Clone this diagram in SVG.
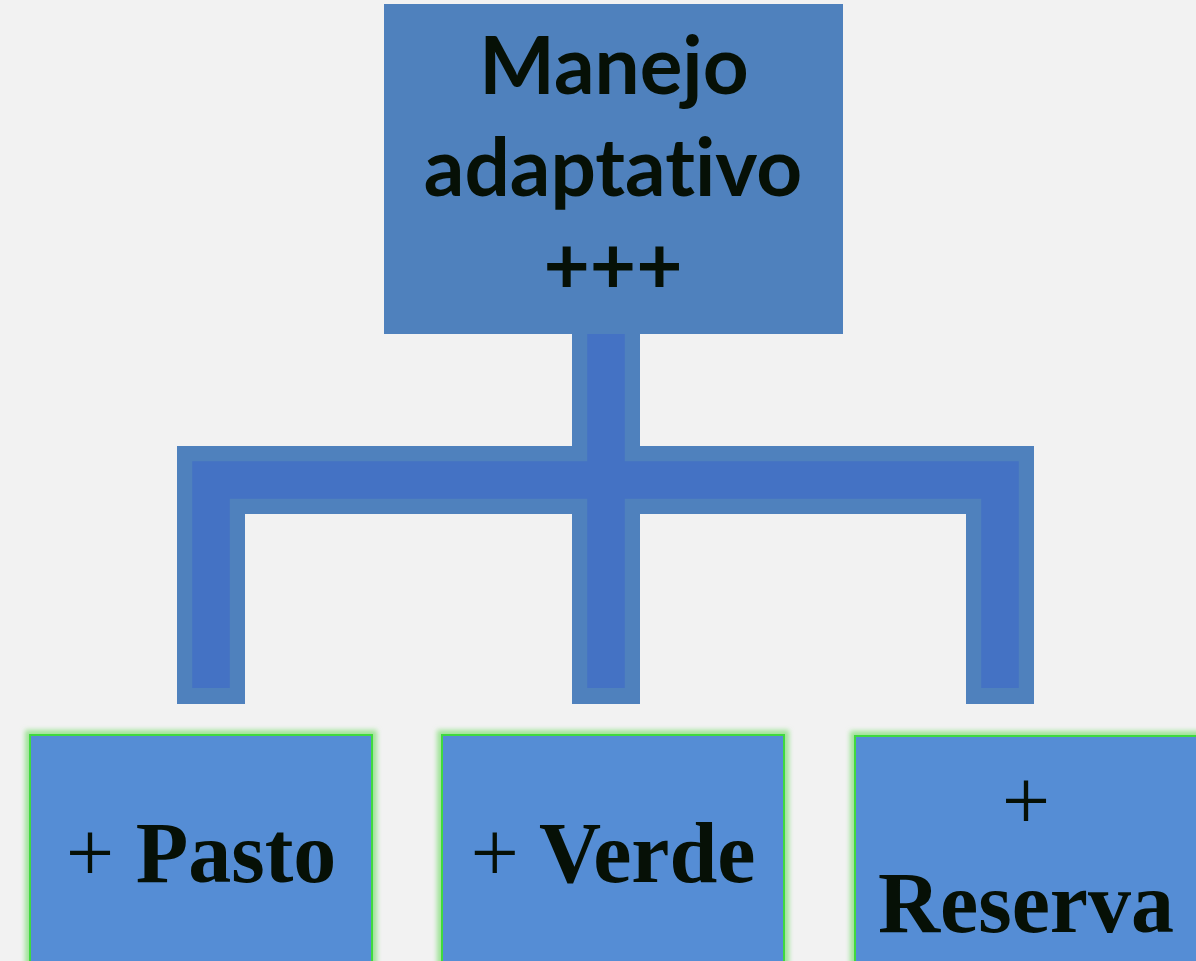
<svg xmlns="http://www.w3.org/2000/svg" width="1196" height="961" viewBox="0 0 1196 961">
  <defs>
    <filter id="glow" x="-10%" y="-10%" width="120%" height="120%">
      <feGaussianBlur stdDeviation="2.5"/>
    </filter>
    <style>
      .bg { fill: #F2F2F2; }
      .outer { fill: none; stroke: #4F81BD; stroke-width: 68; stroke-linejoin: miter; stroke-linecap: butt; }
      .inner { fill: none; stroke: #4472C4; stroke-width: 37.5; stroke-linejoin: miter; stroke-linecap: butt; }
      .top { fill: #4F81BD; }
      .halo { fill: none; stroke: #9FE397; stroke-width: 10; }
      .leaf { fill: #558DD5; stroke: #3FD93F; stroke-width: 2; }
      .t1 { font-family: Lato, "Open Sans", sans-serif; font-weight: bold; font-size: 80px; fill: #061006; text-anchor: middle; font-variant-ligatures: none; font-feature-settings: "liga" 0; }
      .t2 { font-family: "Liberation Serif", "Times New Roman", serif; font-weight: bold; font-size: 86px; fill: #061006; text-anchor: middle; }
      .plus { font-weight: normal; }
    </style>
  </defs>
  <rect class="bg" x="0" y="0" width="1196" height="961"/>
  <g id="connectors">
    <path class="outer" d="M211,704 V480 H1000 V704 M606,334 V704"/>
    <path class="inner" d="M211,688 V480 H1000 V688 M606,334 V688"/>
  </g>
  <g id="node-manejo">
    <rect class="top" x="384" y="4" width="459" height="330"/>
    <text class="t1" x="614" y="94">Manejo</text>
    <text class="t1" x="613" y="196">adaptativo</text>
    <text class="t1" x="613" y="294">+++</text>
  </g>
  <g id="node-pasto">
    <rect class="halo" x="30" y="735" width="342" height="240" filter="url(#glow)"/>
    <rect class="leaf" x="30" y="735" width="342" height="240"/>
    <text class="t2" x="201" y="882"><tspan class="plus">+</tspan> Pasto</text>
  </g>
  <g id="node-verde">
    <rect class="halo" x="442" y="735" width="342" height="240" filter="url(#glow)"/>
    <rect class="leaf" x="442" y="735" width="342" height="240"/>
    <text class="t2" x="613" y="882"><tspan class="plus">+</tspan> Verde</text>
  </g>
  <g id="node-reserva">
    <rect class="halo" x="855" y="736" width="342" height="240" filter="url(#glow)"/>
    <rect class="leaf" x="855" y="736" width="342" height="240"/>
    <text class="t2" x="1026" y="830"><tspan class="plus">+</tspan></text>
    <text class="t2" x="1026" y="932">Reserva</text>
  </g>
</svg>
